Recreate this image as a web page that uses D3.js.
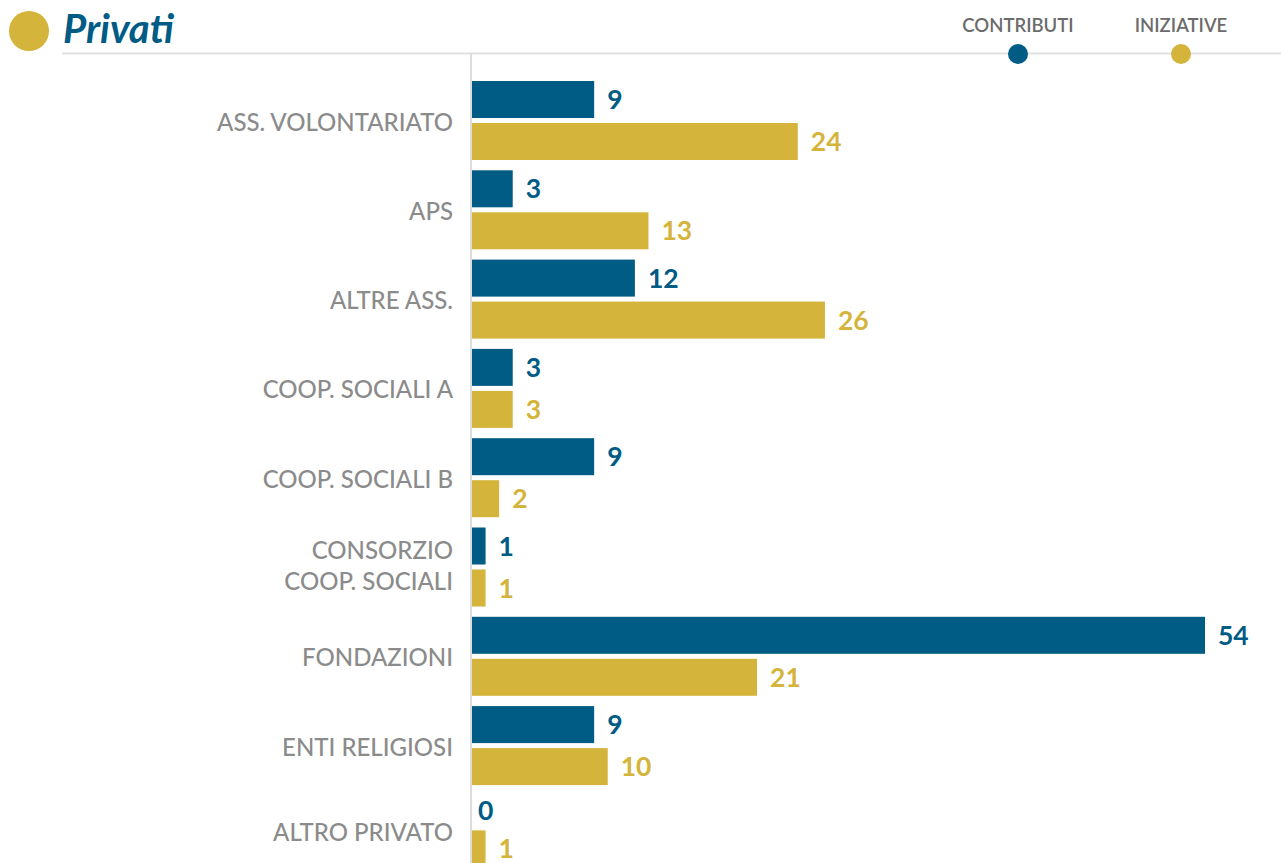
<!DOCTYPE html>
<html>
<head>
<meta charset="utf-8">
<script src="https://cdn.jsdelivr.net/npm/d3@7/dist/d3.min.js"></script>
<style>
  html, body { margin: 0; padding: 0; background: #fff; }
  svg { display: block; font-family: Lato, "Open Sans", sans-serif; }
</style>
</head>
<body>
<svg id="chart" width="1281" height="863"></svg>
<script>
// Categories of private recipients (labels may wrap on "\n")
const categories = [
  "ASS. VOLONTARIATO",
  "APS",
  "ALTRE ASS.",
  "COOP. SOCIALI A",
  "COOP. SOCIALI B",
  "CONSORZIO\nCOOP. SOCIALI",
  "FONDAZIONI",
  "ENTI RELIGIOSI",
  "ALTRO PRIVATO"
];
const contributi = [9, 3, 12, 3, 9, 1, 54, 9, 0];
const iniziative = [24, 13, 26, 3, 2, 1, 21, 10, 1];
const seriesKeys = ["CONTRIBUTI", "INIZIATIVE"];
const seriesColors = ["#005b85", "#d4b43a"];
const title = "Privati";

const svg = d3.select("#chart");
const W = 1281, H = 863;
const axisX = 472;

const x = d3.scaleLinear().domain([0, 54]).range([axisX, 1205]);

// Row layout: each series gets a slot; an empty (zero) bar collapses
// to the height of its value label.
const barH = 37, zeroH = 30, barGap = 5, rowGap = 10.3, firstRowY = 81;
const rows = categories.map((c, i) => ({
  cat: c,
  vals: [contributi[i], iniziative[i]]
}));
rows.forEach(r => {
  r.slots = r.vals.map(v => (v > 0 ? barH : zeroH));
  r.offsets = [0, r.slots[0] + barGap];
  r.height = r.slots[0] + barGap + r.slots[1];
});
const cum = d3.cumsum(rows, r => r.height + rowGap);
rows.forEach((r, i) => { r.y = firstRowY + (i === 0 ? 0 : cum[i - 1]); });

// Header
svg.append("circle").attr("cx", 29).attr("cy", 31).attr("r", 20).attr("fill", seriesColors[1]);
svg.append("text")
  .attr("x", 63).attr("y", 43)
  .attr("fill", seriesColors[0])
  .attr("font-size", 40).attr("font-weight", 700).attr("font-style", "italic")
  .text(title);
svg.append("line")
  .attr("x1", 62).attr("x2", W).attr("y1", 53.5).attr("y2", 53.5)
  .attr("stroke", "#e1e1e1").attr("stroke-width", 2);

// Legend
const legendX = [1018, 1181];
seriesKeys.forEach((k, i) => {
  svg.append("text")
    .attr("x", legendX[i]).attr("y", 32)
    .attr("text-anchor", "middle")
    .attr("fill", "#6b6b6b")
    .attr("font-size", 18.5).attr("font-weight", 600)
    .text(k);
  svg.append("circle")
    .attr("cx", legendX[i]).attr("cy", 54).attr("r", 10)
    .attr("fill", seriesColors[i]);
});

// Vertical baseline
svg.append("line")
  .attr("x1", axisX - 1).attr("x2", axisX - 1).attr("y1", 53).attr("y2", H)
  .attr("stroke", "#dcdcdc").attr("stroke-width", 2);

const groups = svg.append("g").selectAll("g").data(rows).join("g")
  .attr("transform", d => `translate(0,${d.y})`);

// Category labels, centred on each row
groups.append("text")
  .attr("x", 453)
  .attr("text-anchor", "end")
  .attr("fill", "#8b8b8b")
  .attr("font-size", 24)
  .attr("font-weight", 500)
  .each(function (d) {
    const lines = d.cat.split("\n");
    const lh = 31;
    const t = d3.select(this);
    const y0 = d.height / 2 + 10 - (lines.length - 1) * (lh / 2 + 3);
    lines.forEach((ln, j) => {
      t.append("tspan").attr("x", 453).attr("y", y0 + j * lh).text(ln);
    });
  });

const items = d => d.vals.map((v, i) => ({ v, i, y: d.offsets[i], h: d.slots[i] }));

// Bars
groups.selectAll("rect")
  .data(items)
  .join("rect")
  .attr("x", x(0))
  .attr("y", d => d.y)
  .attr("width", d => x(d.v) - x(0))
  .attr("height", d => (d.v > 0 ? d.h : 0))
  .attr("fill", d => seriesColors[d.i]);

// Value labels
groups.selectAll("text.val")
  .data(items)
  .join("text")
  .attr("class", "val")
  .attr("x", d => x(d.v) + (d.v === 0 ? 6 : 13))
  .attr("y", d => d.y + d.h / 2 + 9.5)
  .attr("fill", d => seriesColors[d.i])
  .attr("font-size", 26.5).attr("font-weight", 700)
  .text(d => d.v);
</script>
</body>
</html>
